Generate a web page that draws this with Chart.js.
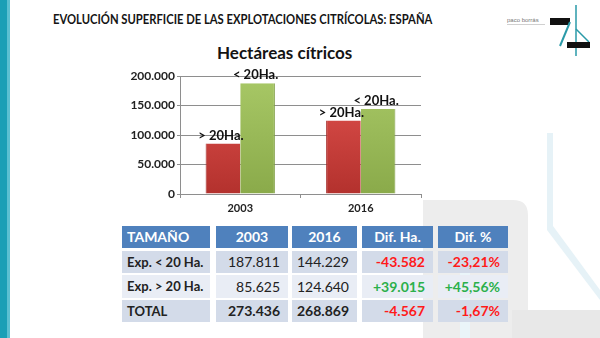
<!DOCTYPE html>
<html>
<head>
<meta charset="utf-8">
<script src="https://cdn.jsdelivr.net/npm/chart.js@4.4.1/dist/chart.umd.min.js"></script>
<style>
  html, body { margin: 0; padding: 0; background: #fff; }
  body { width: 600px; height: 338px; position: relative; overflow: hidden; font-family: Lato, sans-serif; }
  .abs { position: absolute; }
  #title { left: 53px; top: 11px; font-size: 13px; font-weight: bold; color: #141414; white-space: nowrap; transform: scaleX(0.865); transform-origin: left top; }
  #subtitle { left: 217px; top: 42px; font-size: 17px; font-weight: bold; color: #141414; white-space: nowrap; }
  .cell { position: absolute; box-sizing: border-box; font-size: 13px; color: #222; white-space: nowrap; line-height: 22px; }
</style>
</head>
<body>
<svg class="abs" style="left:0;top:0" width="600" height="338">
  <!-- left stripe -->
  <rect x="0" y="0" width="7" height="338" fill="#1b9fb6"/>
  <rect x="7" y="0" width="3" height="338" fill="#5cc0d2"/>
  <!-- faint background shapes -->
  <path d="M423 338 V200 H513 Q528 200 528 215 V338 Z" fill="#ededed"/>
  <rect x="460" y="243" width="10" height="95" fill="#eaf5f9"/>
  <path d="M547 133 H553 V226 L600 290 V300 L547 230 Z" fill="#e6f2f7"/>
  <rect x="512" y="310" width="88" height="28" fill="#e8e8e8"/>
  <!-- logo -->
  <text x="507" y="22" font-size="6" fill="#777" font-family="Liberation Sans">paco borrás</text>
  <rect x="507" y="24" width="38" height="1" fill="#d0d0d0"/>
  <rect x="550" y="18" width="20" height="7" fill="#111"/>
  <line x1="570" y1="22" x2="560" y2="46" stroke="#2a9aa8" stroke-width="2"/>
  <line x1="576" y1="5" x2="576" y2="56" stroke="#2a9aa8" stroke-width="1.5"/>
  <line x1="576" y1="29" x2="589" y2="42" stroke="#2a9aa8" stroke-width="1.5"/>
  <rect x="567" y="42" width="23" height="6" fill="#111"/>
</svg>

<div id="title" class="abs">EVOLUCIÓN SUPERFICIE DE LAS EXPLOTACIONES CITRÍCOLAS: ESPAÑA</div>
<div id="subtitle" class="abs">Hectáreas cítricos</div>

<div class="abs" style="left:110px;top:60px;width:320px;height:165px;">
  <canvas id="chart"></canvas>
</div>

<div id="table"></div>

<script>
// chart data
const categories = ['2003', '2016'];
const seriesNames = ['> 20Ha.', '< 20Ha.'];
const over20Ha = [85625, 124640];
const under20Ha = [187811, 144229];
const yMax = 200000;
const yStep = 50000;

// table data
const tableHeader = ['TAMAÑO', '2003', '2016', 'Dif. Ha.', 'Dif. %'];
const rowLabels = ['Exp. < 20 Ha.', 'Exp. > 20 Ha.', 'TOTAL'];
const ha2003 = ['187.811', '85.625', '273.436'];
const ha2016 = ['144.229', '124.640', '268.869'];
const difHa = ['-43.582', '+39.015', '-4.567'];
const difPct = ['-23,21%', '+45,56%', '-1,67%'];

// table layout
const colX = [122, 216, 292, 362, 438];
const colW = [88, 72, 65, 71, 70];
const rowY = [226, 251, 275, 300];
const rowH = [22, 22, 23, 22];
const rowBg = ['#4f81bd', '#d3dbe9', '#e9edf5', '#d3dbe9'];

const table = document.getElementById('table');
function addCell(r, c, text, color, bold) {
  const d = document.createElement('div');
  d.className = 'cell';
  d.textContent = text;
  d.style.left = colX[c] + 'px';
  d.style.top = rowY[r] + 'px';
  d.style.width = colW[c] + 'px';
  d.style.height = rowH[r] + 'px';
  d.style.lineHeight = rowH[r] + 'px';
  d.style.background = rowBg[r];
  d.style.color = color;
  d.style.fontWeight = bold ? 'bold' : 'normal';
  if (r === 0) {
    d.style.textAlign = c === 0 ? 'left' : 'center';
    d.style.paddingLeft = c === 0 ? '5px' : '0';
    d.style.fontSize = '14px';
  } else if (c === 0) {
    d.style.paddingLeft = '5px';
  } else {
    d.style.textAlign = 'right';
    d.style.paddingRight = '8px';
    d.style.fontSize = '14px';
  }
  table.appendChild(d);
}
tableHeader.forEach((h, c) => addCell(0, c, h, '#fff', true));
rowLabels.forEach((lab, i) => {
  const r = i + 1;
  const isTotal = i === rowLabels.length - 1;
  addCell(r, 0, lab, '#222', true);
  addCell(r, 1, ha2003[i], '#222', isTotal);
  addCell(r, 2, ha2016[i], '#222', isTotal);
  const col = v => v.startsWith('+') ? '#2bb04a' : '#ff1a1a';
  addCell(r, 3, difHa[i], col(difHa[i]), true);
  addCell(r, 4, difPct[i], col(difPct[i]), true);
});

// chart
const gridColor = '#8e8e8e';
const fontFamily = 'Lato, sans-serif';

function barFill(top, bottom) {
  return (ctx) => {
    const area = ctx.chart.chartArea;
    if (!area) return bottom;
    const g = ctx.chart.ctx.createLinearGradient(0, area.top, 0, area.bottom);
    g.addColorStop(0, top);
    g.addColorStop(1, bottom);
    return g;
  };
}

// series name written above each bar
const barLabels = {
  id: 'barLabels',
  afterDatasetsDraw(chart) {
    const ctx = chart.ctx;
    ctx.save();
    ctx.font = 'bold 13px ' + fontFamily;
    ctx.fillStyle = '#111';
    ctx.textAlign = 'center';
    ctx.textBaseline = 'middle';
    chart.data.datasets.forEach((ds, di) => {
      chart.getDatasetMeta(di).data.forEach((bar) => {
        ctx.fillText(ds.label, bar.x - 2, bar.y - 8);
      });
    });
    ctx.restore();
  }
};

new Chart(document.getElementById('chart'), {
  type: 'bar',
  data: {
    labels: categories,
    datasets: [
      {
        label: seriesNames[0],
        data: over20Ha,
        backgroundColor: barFill('#e2534f', '#b3312d'),
        borderColor: '#a52a27',
        borderWidth: { left: 1, right: 0, top: 0, bottom: 0 },
        categoryPercentage: 0.575,
        barPercentage: 1.0
      },
      {
        label: seriesNames[1],
        data: under20Ha,
        backgroundColor: barFill('#a8c866', '#8aaa4a'),
        borderColor: '#7f9e42',
        borderWidth: { left: 0, right: 1, top: 0, bottom: 0 },
        categoryPercentage: 0.575,
        barPercentage: 1.0
      }
    ]
  },
  options: {
    responsive: true,
    maintainAspectRatio: false,
    animation: false,
    layout: { padding: { left: 0, right: 9, top: 16, bottom: 0 } },
    plugins: {
      legend: { display: false },
      tooltip: { enabled: false }
    },
    scales: {
      x: {
        afterFit: (s) => { s.height = 31; },
        ticks: {
          color: '#222',
          font: { family: fontFamily, size: 11, weight: 'bold' },
          padding: 4
        },
        grid: { display: true, drawOnChartArea: false, drawTicks: true, tickLength: 4, color: gridColor },
        border: { color: gridColor }
      },
      y: {
        min: 0,
        max: yMax,
        afterFit: (s) => { s.width = 70; },
        ticks: {
          stepSize: yStep,
          color: '#222',
          font: { family: fontFamily, size: 12, weight: 'bold' },
          padding: 2,
          callback: (v) => v === 0 ? '0' : v.toLocaleString('de-DE')
        },
        grid: { color: gridColor, tickLength: 3 },
        border: { color: gridColor }
      }
    }
  },
  plugins: [barLabels]
});
</script>
</body>
</html>
